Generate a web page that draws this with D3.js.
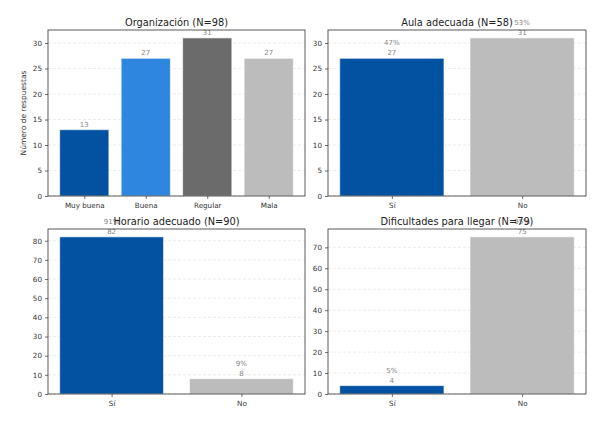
<!DOCTYPE html>
<html>
<head>
<meta charset="utf-8">
<script src="https://cdn.jsdelivr.net/npm/d3@7"></script>
<style>
body { margin: 0; background: #fff; }
svg { font-family: "DejaVu Sans", sans-serif; }
</style>
</head>
<body>
<svg id="chart" width="606" height="423"></svg>
<script>
var orgCats = ["Muy buena", "Buena", "Regular", "Mala"];
var orgVals = [13, 27, 31, 27];
var orgColors = ["#0352a2", "#2e86de", "#6b6b6b", "#bcbcbc"];

var siNoCats = ["Sí", "No"];
var siNoColors = ["#0352a2", "#bcbcbc"];
var aulaVals = [27, 31];
var horarioVals = [82, 8];
var dificultadVals = [4, 75];

var titles = ["Organización (N=98)", "Aula adecuada (N=58)", "Horario adecuado (N=90)", "Dificultades para llegar (N=79)"];
var yTicks = [
    [0, 5, 10, 15, 20, 25, 30],
    [0, 5, 10, 15, 20, 25, 30],
    [0, 10, 20, 30, 40, 50, 60, 70, 80],
    [0, 10, 20, 30, 40, 50, 60, 70]
];

var panels = [
    { x0: 48, x1: 305, y0: 30, y1: 196, cats: orgCats, vals: orgVals, colors: orgColors, pct: false, ylabel: true },
    { x0: 328, x1: 586, y0: 30, y1: 196, cats: siNoCats, vals: aulaVals, colors: siNoColors, pct: true },
    { x0: 48, x1: 305, y0: 229, y1: 394, cats: siNoCats, vals: horarioVals, colors: siNoColors, pct: true },
    { x0: 328, x1: 586, y0: 229, y1: 394, cats: siNoCats, vals: dificultadVals, colors: siNoColors, pct: true }
];

var svg = d3.select("#chart");

panels.forEach(function (p, k) {
    var n = p.vals.length;
    var total = d3.sum(p.vals);
    var span = (n - 1) + 0.8;
    var x = d3.scaleLinear()
        .domain([-0.4 - 0.05 * span, n - 1 + 0.4 + 0.05 * span])
        .range([p.x0, p.x1]);
    var y = d3.scaleLinear()
        .domain([0, d3.max(p.vals) * 1.05])
        .range([p.y1, p.y0]);

    var g = svg.append("g");

    // grid
    g.selectAll("line.grid")
        .data(yTicks[k])
        .enter()
        .append("line")
        .attr("x1", p.x0)
        .attr("x2", p.x1)
        .attr("y1", function (d) { return y(d); })
        .attr("y2", function (d) { return y(d); })
        .attr("stroke", "#e4e4e4")
        .attr("stroke-width", 0.7)
        .attr("stroke-dasharray", "3,2");

    // bars
    g.selectAll("rect")
        .data(p.vals)
        .enter()
        .append("rect")
        .attr("x", function (d, i) { return x(i - 0.4); })
        .attr("width", function (d, i) { return x(i + 0.4) - x(i - 0.4); })
        .attr("y", function (d) { return y(d); })
        .attr("height", function (d) { return p.y1 - y(d); })
        .attr("fill", function (d, i) { return p.colors[i]; })
        .attr("stroke", "#ffffff")
        .attr("stroke-opacity", 0.6)
        .attr("stroke-width", 1);

    // count labels
    g.selectAll("text.val")
        .data(p.vals)
        .enter()
        .append("text")
        .attr("x", function (d, i) { return x(i); })
        .attr("y", function (d) { return y(d) - 3; })
        .attr("text-anchor", "middle")
        .style("font-size", "7px")
        .attr("fill", "#858585")
        .text(function (d) { return d; });

    if (p.pct) {
        g.selectAll("text.pct")
            .data(p.vals)
            .enter()
            .append("text")
            .attr("x", function (d, i) { return x(i); })
            .attr("y", function (d) { return y(d) - 13; })
            .attr("text-anchor", "middle")
            .style("font-size", "7px")
            .attr("fill", "#858585")
            .text(function (d) { return Math.round(d / total * 100) + "%"; });
    }

    // axes
    var xa = g.append("g")
        .attr("transform", "translate(0," + p.y1 + ")")
        .call(d3.axisBottom(x)
            .tickValues(d3.range(n))
            .tickFormat(function (i) { return p.cats[i]; })
            .tickSizeOuter(0)
            .tickSize(3));
    var ya = g.append("g")
        .attr("transform", "translate(" + p.x0 + ",0)")
        .call(d3.axisLeft(y)
            .tickValues(yTicks[k])
            .tickFormat(d3.format("d"))
            .tickSizeOuter(0)
            .tickSize(3));
    [xa, ya].forEach(function (a) {
        a.select(".domain").remove();
        a.selectAll("line").attr("stroke", "#333").attr("stroke-width", 0.7);
        a.selectAll("text")
            .style("font-size", "7.2px")
            .style("font-family", "DejaVu Sans, sans-serif")
            .attr("fill", "#333");
    });
    xa.selectAll("text").attr("dy", "0.9em");

    // frame
    g.append("rect")
        .attr("x", p.x0)
        .attr("y", p.y0)
        .attr("width", p.x1 - p.x0)
        .attr("height", p.y1 - p.y0)
        .attr("fill", "none")
        .attr("stroke", "#333")
        .attr("stroke-width", 0.8);

    // title
    g.append("text")
        .attr("x", (p.x0 + p.x1) / 2)
        .attr("y", p.y0 - 4.5)
        .attr("text-anchor", "middle")
        .style("font-size", "9.8px")
        .attr("fill", "#222")
        .text(titles[k]);

    if (p.ylabel) {
        g.append("text")
            .attr("transform", "translate(26," + ((p.y0 + p.y1) / 2) + ") rotate(-90)")
            .attr("text-anchor", "middle")
            .style("font-size", "7.5px")
            .attr("fill", "#333")
            .text("Número de respuestas");
    }
});
</script>
</body>
</html>
